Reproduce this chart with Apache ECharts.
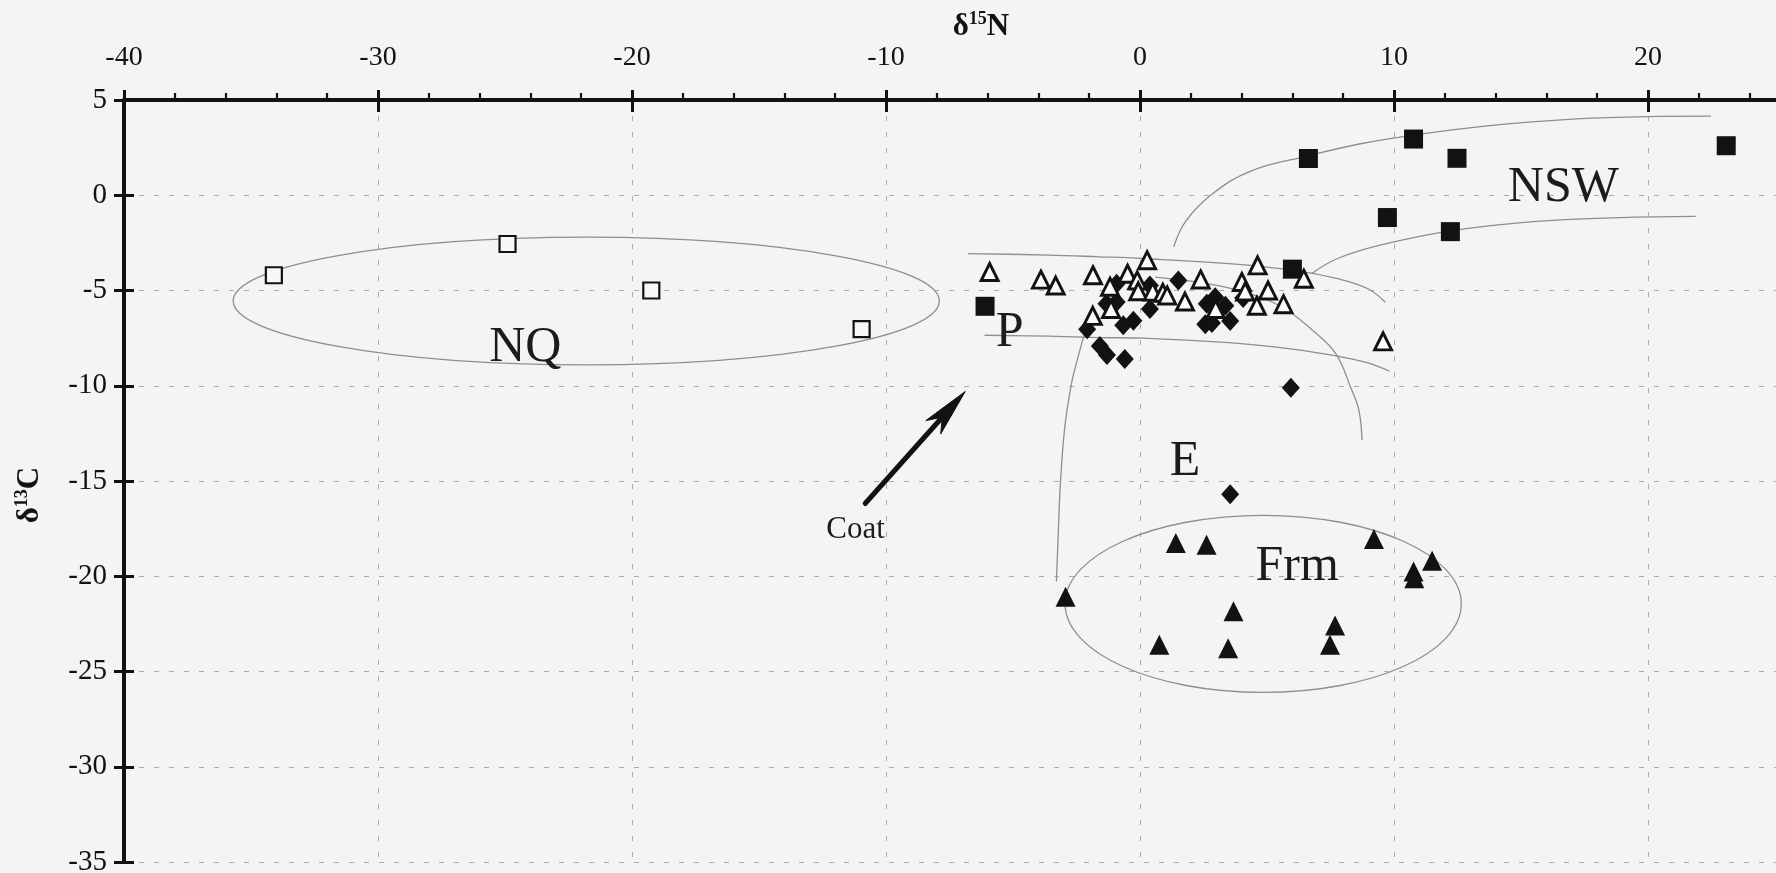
<!DOCTYPE html>
<html>
<head>
<meta charset="utf-8">
<script src="https://cdn.jsdelivr.net/npm/echarts@6/dist/echarts.min.js"></script>
<style>
  html, body { margin: 0; padding: 0; background: #f4f4f4; }
  #chart { width: 1776px; height: 873px; }
</style>
</head>
<body>
<div id="chart"></div>
<script>
// ---- data (δ15N, δ13C) ----
const nqOpenSquares = [[-34.1, -4.2], [-24.9, -2.56], [-19.24, -5.0], [-10.96, -7.03]];
const filledSquares = [[-6.1, -5.83], [6.63, 1.93], [10.77, 2.95], [12.48, 1.94], [23.08, 2.6], [9.74, -1.17], [12.22, -1.91], [6.0, -3.88]];
const diamonds = [[1.51, -4.47], [-0.92, -4.64], [0.39, -4.74], [-1.32, -5.7], [-0.92, -5.61], [0.39, -5.97], [-0.66, -6.82], [-0.26, -6.59], [-2.08, -7.03], [-1.58, -7.91], [-1.3, -8.38], [-0.6, -8.6], [2.96, -5.35], [2.63, -5.7], [3.36, -5.8], [2.57, -6.77], [2.83, -6.7], [3.55, -6.6], [4.06, -5.4], [5.94, -10.1], [3.55, -15.69]];
const openTriangles = [[-5.92, -4.03], [-3.9, -4.43], [-3.32, -4.74], [-1.85, -4.2], [-1.18, -4.8], [-0.49, -4.12], [-0.11, -4.47], [0.28, -3.41], [-0.07, -5.04], [0.5, -5.06], [0.9, -5.12], [1.07, -5.26], [1.77, -5.58], [-1.14, -5.97], [-1.86, -6.33], [2.39, -4.42], [2.98, -5.97], [4.01, -4.55], [4.63, -3.68], [4.14, -5.05], [5.04, -5.0], [4.6, -5.8], [5.65, -5.72], [6.45, -4.38], [9.57, -7.67]];
const filledTriangles = [[-2.93, -21.08], [1.41, -18.25], [2.62, -18.34], [9.21, -18.04], [11.5, -19.19], [10.77, -19.75], [10.8, -20.1], [3.68, -21.84], [7.68, -22.58], [0.76, -23.6], [3.47, -23.78], [7.48, -23.6]];

// ---- hand-drawn group outlines ----
const curveNswUpper = [[1.33, -2.7], [1.79, -1.38], [2.82, 0.04], [4.36, 1.27], [6.63, 2.07], [8.63, 2.69], [10.77, 3.16], [13.76, 3.66], [17.18, 4.01], [20, 4.13], [22.48, 4.15]];
const curveNswLower = [[6.75, -4.12], [7.78, -3.32], [9.49, -2.61], [12.22, -1.87], [15.47, -1.38], [18.89, -1.17], [21.88, -1.11]];
const curvePTop = [[-6.78, -3.06], [-3.62, -3.14], [-1.62, -3.23], [0.09, -3.32], [3.5, -3.59], [6.07, -3.94], [7.78, -4.38], [8.97, -4.91], [9.66, -5.62]];
const curvePBottom = [[-6.12, -7.35], [-3.6, -7.4], [-1.62, -7.47], [0.09, -7.5], [3.5, -7.74], [6.07, -8.09], [7.78, -8.45], [8.97, -8.8], [9.83, -9.24]];
const curveELeft = [[-3.29, -20.28], [-3.21, -17.46], [-3.13, -15.02], [-2.96, -12.16], [-2.72, -10.04], [-2.5, -8.8], [-2.17, -7.2]];
const curveERight = [[0.6, -4.3], [2.2, -4.55], [3.75, -4.95], [5.5, -5.8], [6.8, -7.1], [7.7, -8.3], [8.3, -10.1], [8.62, -11.3], [8.74, -12.86]];
// ellipses: [centerX, centerY, radiusX, radiusY]
const ellipses = [[-21.8, -5.55, 13.9, 3.35], [4.85, -21.45, 7.8, 4.65]];
// arrow: [fromX, fromY, toX, toY]
const arrowData = [[-10.82, -16.18, -6.88, -10.3]];
// text labels
const regionLabels = [[-24.2, -8.0, 'NQ'], [-5.13, -7.23, 'P'], [16.67, 0.39, 'NSW'], [1.77, -14.0, 'E'], [6.19, -19.49, 'Frm']];
const coatLabel = [[-11.2, -17.54, 'Coat']];

// ---- axes ----
const xMin = -40, xMax = 30, xInterval = 10;
const yMin = -35, yMax = 5, yInterval = 5;

const SERIF = "'Liberation Serif', 'DejaVu Serif', serif";
const GRID_COLOR = '#ababab';
const CURVE_COLOR = '#8e8e8e';
const INK = '#121212';

const chart = echarts.init(document.getElementById('chart'), null, { renderer: 'canvas' });

function curveSeries(data) {
  return {
    type: 'line', data: data, smooth: 0.4, symbol: 'none', silent: true, z: 1,
    lineStyle: { color: CURVE_COLOR, width: 1.3 }
  };
}

const option = {
  backgroundColor: '#f4f4f4',
  animation: false,
  grid: { left: 124, top: 100, width: 1778, bottom: 11, containLabel: false, outerBoundsMode: 'none' },
  xAxis: [
    {
      type: 'value', position: 'top', min: xMin, max: xMax, interval: xInterval,
      axisLine: { show: true, onZero: false, lineStyle: { color: INK, width: 4 } },
      axisTick: { show: true, inside: false, length: 10, lineStyle: { color: INK, width: 3 } },
      minorTick: { show: true, splitNumber: 5, length: 7, lineStyle: { color: INK, width: 2.2 } },
      axisLabel: { show: true, margin: 28, fontFamily: SERIF, fontSize: 28, color: INK },
      splitLine: { show: true, lineStyle: { color: GRID_COLOR, width: 1, type: [5, 11] } }
    },
    {
      type: 'value', position: 'top', min: xMin, max: xMax, interval: xInterval,
      axisLine: { show: false, onZero: false },
      axisTick: { show: true, inside: true, length: 12, lineStyle: { color: INK, width: 3 } },
      axisLabel: { show: false },
      splitLine: { show: false }
    }
  ],
  yAxis: [
    {
      type: 'value', position: 'left', min: yMin, max: yMax, interval: yInterval,
      axisLine: { show: true, onZero: false, lineStyle: { color: INK, width: 4 } },
      axisTick: { show: true, inside: false, length: 10, lineStyle: { color: INK, width: 3 } },
      axisLabel: { show: true, margin: 17, fontFamily: SERIF, fontSize: 29, color: INK },
      splitLine: { show: true, lineStyle: { color: GRID_COLOR, width: 1, type: [5, 10] } }
    },
    {
      type: 'value', position: 'left', min: yMin, max: yMax, interval: yInterval,
      axisLine: { show: false, onZero: false },
      axisTick: { show: true, inside: true, length: 10, lineStyle: { color: INK, width: 3 } },
      axisLabel: { show: false },
      splitLine: { show: false }
    }
  ],
  graphic: [
    {
      type: 'text', x: 981, y: 27, silent: true,
      style: {
        text: '{a|δ}{b|15}{a|N}', align: 'center', verticalAlign: 'middle',
        rich: {
          a: { fontFamily: SERIF, fontWeight: 'bold', fontSize: 31, fill: INK, lineHeight: 34 },
          b: { fontFamily: SERIF, fontWeight: 'bold', fontSize: 18, fill: INK, lineHeight: 34, verticalAlign: 'top' }
        }
      }
    },
    {
      type: 'text', x: 30, y: 495, rotation: Math.PI / 2, silent: true,
      style: {
        text: '{a|δ}{b|13}{a|C}', align: 'center', verticalAlign: 'middle',
        rich: {
          a: { fontFamily: SERIF, fontWeight: 'bold', fontSize: 31, fill: INK, lineHeight: 34 },
          b: { fontFamily: SERIF, fontWeight: 'bold', fontSize: 18, fill: INK, lineHeight: 34, verticalAlign: 'top' }
        }
      }
    }
  ],
  series: [
    curveSeries(curveNswUpper),
    curveSeries(curveNswLower),
    curveSeries(curvePTop),
    curveSeries(curvePBottom),
    curveSeries(curveELeft),
    curveSeries(curveERight),
    {
      type: 'custom', data: ellipses, silent: true, z: 1,
      renderItem: function (params, api) {
        const c = api.coord([api.value(0), api.value(1)]);
        const s = api.size([api.value(2), api.value(3)]);
        return {
          type: 'ellipse',
          shape: { cx: c[0], cy: c[1], rx: s[0], ry: s[1] },
          style: { fill: 'none', stroke: CURVE_COLOR, lineWidth: 1.3 }
        };
      }
    },
    {
      type: 'custom', data: arrowData, silent: true, z: 3,
      renderItem: function (params, api) {
        const p1 = api.coord([api.value(0), api.value(1)]);
        const p2 = api.coord([api.value(2), api.value(3)]);
        const dx = p2[0] - p1[0], dy = p2[1] - p1[1];
        const len = Math.sqrt(dx * dx + dy * dy);
        const ux = dx / len, uy = dy / len;
        const nx = -uy, ny = ux;
        const L = 48, W = 10;
        const back = [p2[0] - ux * L, p2[1] - uy * L];
        const notch = [p2[0] - ux * L * 0.72, p2[1] - uy * L * 0.72];
        return {
          type: 'group',
          children: [
            { type: 'line', shape: { x1: p1[0], y1: p1[1], x2: notch[0], y2: notch[1] },
              style: { stroke: INK, lineWidth: 5, lineCap: 'round' } },
            { type: 'polygon', shape: { points: [p2, [back[0] + nx * W, back[1] + ny * W], notch, [back[0] - nx * W, back[1] - ny * W]] },
              style: { fill: INK, stroke: INK, lineWidth: 1 } }
          ]
        };
      }
    },
    {
      name: 'NQ', type: 'scatter', data: nqOpenSquares, symbol: 'rect', symbolSize: 16, z: 4,
      itemStyle: { color: '#f7f7f7', borderColor: INK, borderWidth: 2.2, opacity: 1 }
    },
    {
      name: 'NSW / P', type: 'scatter', data: filledSquares, symbol: 'rect', symbolSize: 19, z: 4,
      itemStyle: { color: INK, opacity: 1 }
    },
    {
      name: 'E', type: 'scatter', data: diamonds, symbol: 'diamond', symbolSize: [18, 20], z: 5,
      itemStyle: { color: INK, opacity: 1 }
    },
    {
      name: 'Frm', type: 'scatter', data: filledTriangles, symbol: 'triangle', symbolSize: 20, z: 5,
      itemStyle: { color: INK, opacity: 1 }
    },
    {
      name: 'P', type: 'scatter', data: openTriangles, symbol: 'triangle', symbolSize: 17, z: 6,
      itemStyle: { color: '#fbfbfb', borderColor: INK, borderWidth: 2.9, opacity: 1 }
    },
    {
      type: 'custom', data: regionLabels, silent: true, z: 7,
      renderItem: function (params, api) {
        const c = api.coord([api.value(0), api.value(1)]);
        return {
          type: 'text', x: c[0], y: c[1],
          style: { text: regionLabels[params.dataIndex][2], font: "50px 'Liberation Serif', serif", fill: '#1c1c1c', align: 'center', verticalAlign: 'middle' }
        };
      }
    },
    {
      type: 'custom', data: coatLabel, silent: true, z: 7,
      renderItem: function (params, api) {
        const c = api.coord([api.value(0), api.value(1)]);
        return {
          type: 'text', x: c[0], y: c[1],
          style: { text: coatLabel[params.dataIndex][2], font: "31px 'Liberation Serif', serif", fill: '#1c1c1c', align: 'center', verticalAlign: 'middle' }
        };
      }
    }
  ]
};

chart.setOption(option);
</script>
</body>
</html>
